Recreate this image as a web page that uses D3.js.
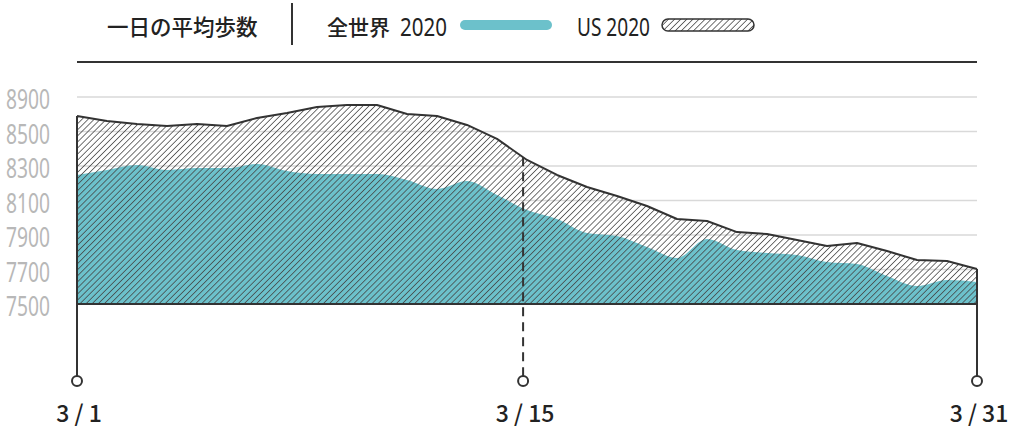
<!DOCTYPE html>
<html>
<head>
<meta charset="utf-8">
<script src="https://cdn.jsdelivr.net/npm/d3@7"></script>
<style>
  body { margin: 0; background: #fff; }
  svg { display: block; }
</style>
</head>
<body>
<div id="chart"></div>
<script>
// daily average steps, March 2020 (day index 0 = 3/1 ... 30 = 3/31)
var days = d3.range(0, 31)
var usSteps = [8590, 8561, 8543, 8532, 8543, 8532, 8578, 8607, 8642, 8654, 8654,
  8601, 8590, 8538, 8457, 8335, 8248, 8178, 8126, 8068, 7993, 7981, 7917, 7906,
  7871, 7836, 7854, 7807, 7755, 7749, 7703]
var worldSteps = [8248, 8277, 8306, 8277, 8288, 8288, 8312, 8271, 8254, 8254, 8254,
  8219, 8167, 8213, 8132, 8045, 7993, 7912, 7894, 7830, 7767, 7877, 7813, 7796,
  7784, 7743, 7732, 7662, 7604, 7639, 7628]

// y ticks as printed (top label reads 8900 in the original)
var yTickValues = [7500, 7700, 7900, 8100, 8300, 8500, 8700]
var yTickLabels = ["7500", "7700", "7900", "8100", "8300", "8500", "8900"]

// date markers (3/15 marker sits a bit left of day 15 in the original)
var xMarks = [0, 14.87, 30]
var xMarkLabels = ["3/1", "3/15", "3/31"]
var xMarkDashed = [false, true, false]

var titleText = "一日の平均歩数"
var seriesNames = ["全世界", "US"]
var seriesYear = "2020"

function step_chart(){
    var width = 1024, height = 433
    var margin = ({ top: 97, right: 47, bottom: 129, left: 77 })
    var teal = "#6cc1cb", ink = "#333"
    var numFont = "'Noto Sans', sans-serif"   // squeezed with textLength, no narrow face installed
    var jpFont = "'Noto Sans CJK JP', sans-serif"

    let x = d3.scaleLinear()
        .domain([0, 30])
        .range([margin.left, width - margin.right])

    let y = d3.scaleLinear()
        .domain([7500, 8700])
        .range([height - margin.bottom, margin.top])

    let svg = d3.select("#chart")
        .append("svg")
        .attr("width", width)
        .attr("height", height)
        .attr("viewBox", [0, 0, width, height])

    // hatch pattern
    let defs = svg.append("defs")
    defs.append("pattern")
        .attr("id", "hatch")
        .attr("patternUnits", "userSpaceOnUse")
        .attr("width", 4.3)
        .attr("height", 4.3)
        .attr("patternTransform", "rotate(45)")
      .append("line")
        .attr("x1", 0).attr("y1", 0)
        .attr("x2", 0).attr("y2", 4.3)
        .attr("stroke", "#444")
        .attr("stroke-width", 1.5)

    // legend
    let legY = 27
    svg.append("text")
        .attr("x", 107).attr("y", legY)
        .attr("dy", "0.36em")
        .attr("font-family", jpFont)
        .attr("font-weight", 500)
        .attr("font-size", 21.5)
        .attr("fill", "#222")
        .text(titleText)

    svg.append("line")
        .attr("x1", 292).attr("x2", 292)
        .attr("y1", 3).attr("y2", 45)
        .attr("stroke", ink).attr("stroke-width", 2)

    svg.append("text")
        .attr("x", 327).attr("y", legY)
        .attr("dy", "0.36em")
        .attr("font-family", jpFont).attr("font-weight", 500).attr("font-size", 21)
        .attr("fill", "#222")
        .text(seriesNames[0])

    svg.append("text")
        .attr("x", 400).attr("y", legY)
        .attr("dy", "0.36em")
        .attr("font-family", numFont).attr("font-size", 26)
        .attr("textLength", 47).attr("lengthAdjust", "spacingAndGlyphs")
        .attr("fill", "#222")
        .text(seriesYear)

    svg.append("rect")
        .attr("x", 460).attr("y", 20)
        .attr("width", 92).attr("height", 10)
        .attr("rx", 5)
        .attr("fill", teal)

    svg.append("text")
        .attr("x", 577).attr("y", legY)
        .attr("dy", "0.36em")
        .attr("font-family", numFont).attr("font-size", 26)
        .attr("textLength", 73).attr("lengthAdjust", "spacingAndGlyphs")
        .attr("fill", "#222")
        .text(seriesNames[1] + " " + seriesYear)

    svg.append("rect")
        .attr("x", 662).attr("y", 19)
        .attr("width", 92).attr("height", 12)
        .attr("rx", 6)
        .attr("fill", "url(#hatch)")
        .attr("stroke", ink).attr("stroke-width", 1.5)

    // top rule
    svg.append("line")
        .attr("x1", x(0)).attr("x2", x(30))
        .attr("y1", 62).attr("y2", 62)
        .attr("stroke", ink).attr("stroke-width", 2)

    // gridlines + y labels
    svg.append("g")
        .selectAll("line")
        .data(yTickValues.slice(1))
        .join("line")
        .attr("x1", x(0)).attr("x2", x(30))
        .attr("y1", d => y(d)).attr("y2", d => y(d))
        .attr("stroke", "#d9d9d9").attr("stroke-width", 1.5)

    svg.append("g")
        .selectAll("text")
        .data(yTickValues)
        .join("text")
        .attr("x", 6)
        .attr("y", d => y(d) + 2)
        .attr("dy", "0.36em")
        .attr("font-family", numFont)
        .attr("font-size", 28)
        .attr("textLength", 44).attr("lengthAdjust", "spacingAndGlyphs")
        .attr("fill", "#b8b8b8")
        .text((d, i) => yTickLabels[i])

    // areas
    let usArea = d3.area()
        .x((d, i) => x(days[i]))
        .y0(y(7500))
        .y1(d => y(d))
    let worldArea = d3.area()
        .x((d, i) => x(days[i]))
        .y0(y(7500))
        .y1(d => y(d))
        .curve(d3.curveMonotoneX)

    svg.append("path")
        .attr("d", worldArea(worldSteps))
        .attr("fill", teal)

    svg.append("path")
        .attr("d", usArea(usSteps))
        .attr("fill", "url(#hatch)")

    svg.append("path")
        .attr("d", d3.line().x((d, i) => x(days[i])).y(d => y(d))(usSteps))
        .attr("fill", "none")
        .attr("stroke", ink).attr("stroke-width", 2)
        .attr("stroke-linejoin", "round")

    // baseline
    svg.append("line")
        .attr("x1", x(0)).attr("x2", x(30))
        .attr("y1", y(7500)).attr("y2", y(7500))
        .attr("stroke", ink).attr("stroke-width", 1.8)

    // date markers
    let usAt = d3.scaleLinear().domain(days).range(usSteps)
    let stemEnd = 376, dotY = 381

    let marks = svg.append("g")
        .selectAll("g")
        .data(xMarks)
        .join("g")

    marks.append("line")
        .attr("x1", d => x(d)).attr("x2", d => x(d))
        .attr("y1", d => y(usAt(d)))
        .attr("y2", stemEnd)
        .attr("stroke", ink).attr("stroke-width", 2)
        .attr("stroke-dasharray", (d, i) => xMarkDashed[i] ? "9,6" : null)

    marks.append("circle")
        .attr("cx", d => x(d))
        .attr("cy", dotY)
        .attr("r", 5)
        .attr("fill", "#fff")
        .attr("stroke", ink).attr("stroke-width", 2)

    marks.append("text")
        .attr("x", d => x(d) + 2)
        .attr("y", 414)
        .attr("dy", "0.36em")
        .attr("text-anchor", "middle")
        .attr("font-family", jpFont)
        .attr("font-weight", 500)
        .attr("font-size", 23)
        .attr("fill", "#222")
        .text((d, i) => xMarkLabels[i].replace("/", " / "))
}
step_chart()
</script>
</body>
</html>
